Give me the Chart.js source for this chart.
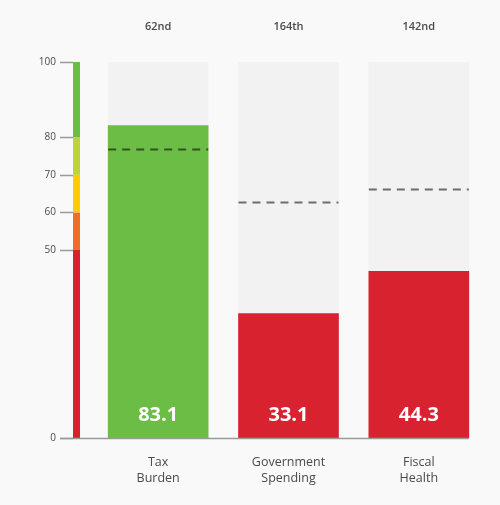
<!DOCTYPE html>
<html>
<head>
<meta charset="utf-8">
<script src="https://cdn.jsdelivr.net/npm/chart.js@4/dist/chart.umd.min.js"></script>
<style>
  html, body { margin: 0; padding: 0; background: #f9f9f9; }
  #wrap { width: 500px; height: 505px; }
</style>
</head>
<body>
<div id="wrap"><canvas id="c" width="500" height="505"></canvas></div>
<script>
// ---- data ----
const categories = [['Tax', 'Burden'], ['Government', 'Spending'], ['Fiscal', 'Health']];
const scores = [83.1, 33.1, 44.3];
const averages = [76.9, 62.7, 66.3];
const ranks = ['62nd', '164th', '142nd'];
const trackValues = [100, 100, 100];
const yTickValues = [0, 50, 60, 70, 80, 100];
const bandStarts = [0, 50, 60, 70, 80];
const bandEnds = [50, 60, 70, 80, 100];
const bandColors = ['#d9222f', '#f26b2a', '#ffcc00', '#bcd435', '#6cbd45'];

function colorFor(v) {
  for (let i = 0; i < bandStarts.length; i++) {
    if (v >= bandStarts[i] && v < bandEnds[i]) return bandColors[i];
  }
  return bandColors[bandColors.length - 1];
}

const FONT = '"Open Sans", "DejaVu Sans", sans-serif';

const overlay = {
  id: 'overlay',
  afterDatasetsDraw(chart) {
    const ctx = chart.ctx;
    const y = chart.scales.y;
    const meta = chart.getDatasetMeta(1);
    ctx.save();
    // colour band
    for (let i = 0; i < bandStarts.length; i++) {
      const top = y.getPixelForValue(bandEnds[i]);
      const bot = y.getPixelForValue(bandStarts[i]);
      ctx.fillStyle = bandColors[i];
      ctx.fillRect(73, top, 7, bot - top);
    }
    // tick marks
    ctx.strokeStyle = '#9a9a9a';
    ctx.lineWidth = 1.5;
    yTickValues.forEach(v => {
      const py = Math.round(y.getPixelForValue(v)) + 0.5;
      ctx.beginPath();
      ctx.moveTo(60, py);
      ctx.lineTo(73, py);
      ctx.stroke();
    });
    // bottom axis line
    const by = y.getPixelForValue(0) + 0.5;
    const lastBar = meta.data[meta.data.length - 1];
    ctx.beginPath();
    ctx.moveTo(60, by);
    ctx.lineTo(lastBar.x + lastBar.width / 2, by);
    ctx.stroke();

    meta.data.forEach((bar, i) => {
      const left = bar.x - bar.width / 2;
      const right = bar.x + bar.width / 2;
      // dashed average line
      const ay = Math.round(y.getPixelForValue(averages[i])) + 0.5;
      ctx.setLineDash([8, 6]);
      ctx.lineWidth = 2;
      ctx.strokeStyle = 'rgba(0,0,0,0.55)';
      ctx.beginPath();
      ctx.moveTo(left, ay);
      ctx.lineTo(right, ay);
      ctx.stroke();
      ctx.setLineDash([]);
      // value label
      ctx.fillStyle = '#ffffff';
      ctx.font = 'bold 20px ' + FONT;
      ctx.textAlign = 'center';
      ctx.textBaseline = 'middle';
      ctx.fillText(scores[i].toFixed(1), bar.x, 415);
      // rank label
      ctx.fillStyle = '#4a4a4a';
      ctx.font = '600 11px ' + FONT;
      ctx.fillText(ranks[i], bar.x, 27);
    });
    ctx.restore();
  }
};

new Chart(document.getElementById('c'), {
  type: 'bar',
  data: {
    labels: categories,
    datasets: [
      {
        data: trackValues,
        backgroundColor: '#f2f2f2',
        order: 2,
        grouped: false,
        barThickness: 100
      },
      {
        data: scores,
        backgroundColor: scores.map(colorFor),
        order: 1,
        grouped: false,
        barThickness: 100
      }
    ]
  },
  options: {
    responsive: false,
    animation: false,
    events: [],
    layout: { padding: { top: 62, right: 16, left: 0, bottom: 0 } },
    plugins: { legend: { display: false }, tooltip: { enabled: false } },
    scales: {
      x: {
        grid: { display: false, drawTicks: false },
        border: { display: false },
        ticks: {
          color: '#4a4a4a',
          font: { family: FONT, size: 12.5, lineHeight: 1.3 },
          padding: 16
        },
        afterFit(s) { s.height = 67; }
      },
      y: {
        min: 0,
        max: 100,
        grid: { display: false, drawTicks: false },
        border: { display: false },
        afterBuildTicks(s) { s.ticks = yTickValues.map(v => ({ value: v })); },
        ticks: {
          color: '#4a4a4a',
          font: { family: FONT, size: 10 },
          padding: 37
        },
        afterFit(s) { s.width = 93; }
      }
    }
  },
  plugins: [overlay]
});
</script>
</body>
</html>
